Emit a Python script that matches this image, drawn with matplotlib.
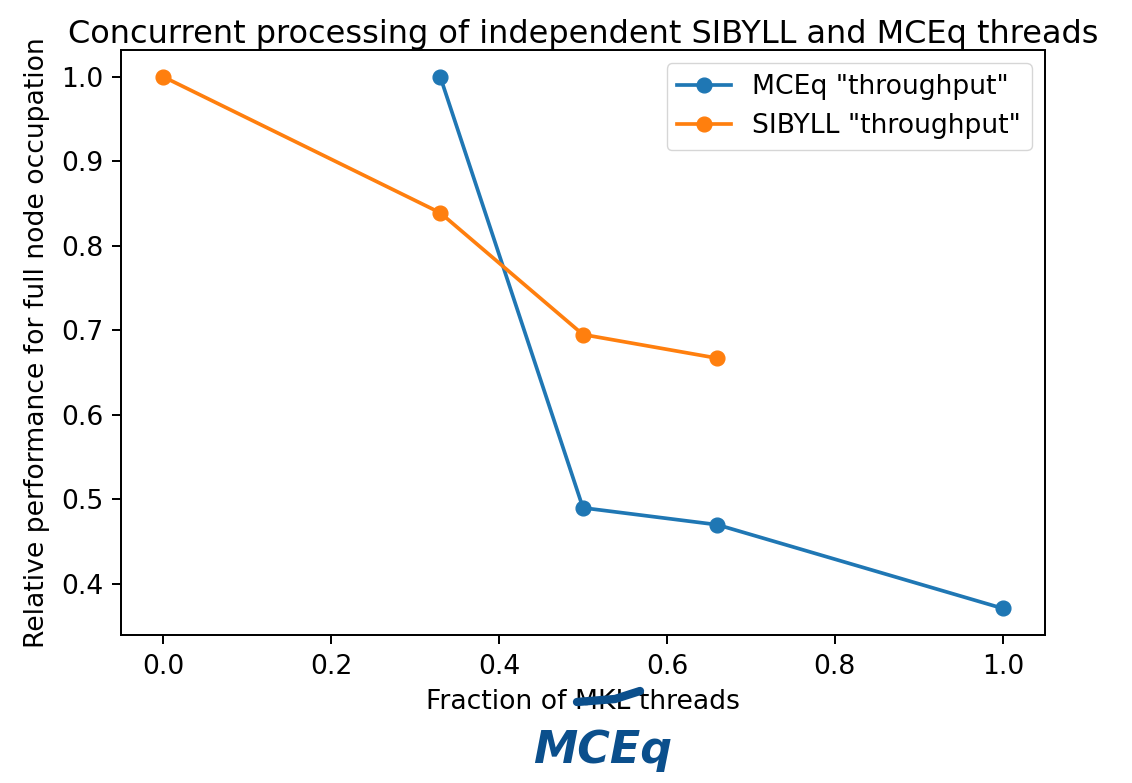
import matplotlib
matplotlib.use("Agg")
import matplotlib.pyplot as plt
from matplotlib.lines import Line2D

# data
mceq_frac = [0.33, 0.5, 0.66, 1.0]
mceq_perf = [1.0, 0.49, 0.47, 0.371]
sibyll_frac = [0.0, 0.33, 0.5, 0.66]
sibyll_perf = [1.0, 0.839, 0.695, 0.667]

s = 1.77  # scale for lines/markers
f = 1.92  # scale for fonts
plt.rcParams['font.size'] = 10 * f
plt.rcParams['axes.linewidth'] = 0.8 * s
plt.rcParams['xtick.major.width'] = 0.8 * s
plt.rcParams['ytick.major.width'] = 0.8 * s
plt.rcParams['xtick.major.size'] = 3.5 * f
plt.rcParams['ytick.major.size'] = 3.5 * f
plt.rcParams['xtick.major.pad'] = 3.5 * f
plt.rcParams['ytick.major.pad'] = 3.5 * s

fig = plt.figure(figsize=(11.32, 7.83), dpi=100)
ax = fig.add_axes([0.107, 0.189, 0.816, 0.747])

ax.plot(mceq_frac, mceq_perf, 'o-', color='#1f77b4', lw=1.5 * s, ms=6 * s,
        label='MCEq "throughput"')
ax.plot(sibyll_frac, sibyll_perf, 'o-', color='#ff7f0e', lw=1.5 * s, ms=6 * s,
        label='SIBYLL "throughput"')

ax.set_title('Concurrent processing of independent SIBYLL and MCEq threads',
             fontsize=12 * f, pad=4)
ax.set_xlabel('Fraction of MKL threads', labelpad=7)
ax.set_ylabel('Relative performance for full node occupation', labelpad=8)
ax.legend(loc='upper right')

# handwritten correction
ink = '#0b4f8c'
fig.add_artist(Line2D([577 / 1132, 615 / 1132, 640 / 1132],
                      [1 - 702 / 783, 1 - 699 / 783, 1 - 691 / 783],
                      color=ink, lw=6, solid_capstyle='round'))
fig.text(603 / 1132, 1 - 750 / 783, 'MCEq', color=ink, fontsize=32,
         fontweight='bold', fontstyle='italic', ha='center', va='center')

fig.savefig('out.png', dpi=100)
